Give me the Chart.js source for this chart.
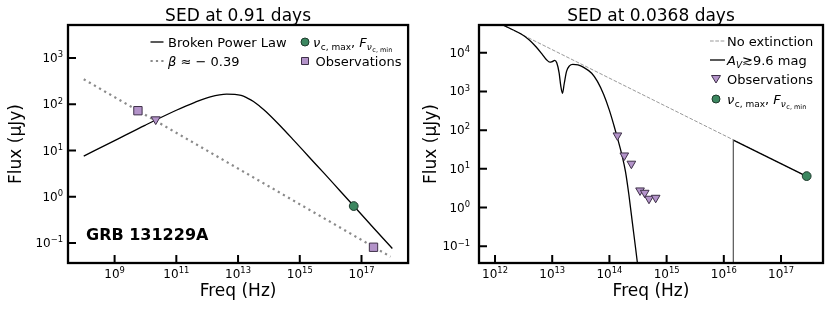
<!DOCTYPE html>
<html>
<head>
<meta charset="utf-8">
<script src="https://cdn.jsdelivr.net/npm/chart.js@4.4.1/dist/chart.umd.min.js"></script>
<style>
  body { margin: 0; background: #fff; }
  .panel { position: absolute; top: 0; width: 415px; height: 312px; }
</style>
</head>
<body>
<div class="panel" style="left:0"><canvas id="left" width="415" height="312"></canvas></div>
<div class="panel" style="left:415px"><canvas id="right" width="415" height="312"></canvas></div>
<script>
// ---- left panel: SED at 0.91 days ----
const bplFreq = [1e8, 1e9, 1e10, 1e11, 3.98e11, 1.26e12, 4.27e12, 1.26e13, 2.0e13, 3.16e13, 5.01e13, 7.94e13, 2.0e14, 6.31e14, 2.0e15, 6.31e15, 2.0e16, 5.62e16, 2.51e17, 1e18];
const bplFlux = [7.59, 16.4, 35.5, 74.1, 110, 145, 166, 155, 136, 115, 91, 70, 38.0, 16.8, 7.24, 3.16, 1.35, 0.631, 0.209, 0.0759];
const betaFreq = [1e8, 8.7e17];
const betaFlux = [347, 0.0506];
const obsSqFreq = [5.7e9, 2.45e17];
const obsSqFlux = [72.6, 0.081];
const obsTriFreqL = [2.15e10];
const obsTriFluxL = [47];
const ncFreqL = [5.6e16];
const ncFluxL = [0.63];
const leftXTicks = [1e9, 1e11, 1e13, 1e15, 1e17];
const leftYTicks = [1e-1, 1, 10, 100, 1000];

// ---- right panel: SED at 0.0368 days ----
const noExtFreq = [1e12, 2.81e17];
const noExtFlux = [65200, 6.4];
const extFreq = [1e12, 2.0e12, 2.82e12, 3.98e12, 5.25e12, 6.61e12, 7.94e12, 9.12e12, 1.0e13, 1.1e13, 1.2e13, 1.32e13, 1.41e13, 1.51e13, 1.62e13, 1.78e13, 2.0e13, 2.29e13, 2.82e13, 3.55e13, 4.9e13, 6.17e13, 7.94e13, 1.0e14, 1.2e14, 1.38e14, 1.66e14, 1.91e14, 2.19e14, 2.51e14, 2.88e14, 3.16e14];
const extFlux = [65200, 39800, 30900, 21400, 14100, 9330, 6610, 5690, 5890, 6310, 5500, 3020, 1410, 891, 1580, 3310, 4570, 5010, 4840, 4170, 2950, 1820, 832, 324, 132, 63.1, 22.4, 8.51, 2.14, 0.427, 0.085, 0.028];
const xrayEdgeFreq = [1.466e16, 1.466e16];
const xrayEdgeFlux = [0.001, 55.5];
const xrayFreq = [1.466e16, 2.81e17];
const xrayFlux = [55.5, 6.4];
const obsTriFreqR = [1.38e14, 1.82e14, 2.42e14, 3.43e14, 4.14e14, 4.92e14, 6.44e14];
const obsTriFluxR = [73, 22.2, 13.6, 2.77, 2.41, 1.69, 1.79];
const ncFreqR = [2.81e17];
const ncFluxR = [6.5];
const rightXTicks = [1e12, 1e13, 1e14, 1e15, 1e16, 1e17];
const rightYTicks = [1e-1, 1, 10, 100, 1000, 1e4];

const PURPLE = '#b393c9', PURPLE_EDGE = '#3e3048';
const GREEN = '#3c8760', GREEN_EDGE = '#1e3a2c';
const FONT = '"DejaVu Sans", sans-serif';

Chart.defaults.font.family = FONT;
Chart.defaults.color = '#000';

const pts = (xs, ys) => xs.map((x, i) => ({x: x, y: ys[i]}));

function expText(v) {
  const e = Math.round(Math.log10(v));
  return e < 0 ? '−' + (-e) : String(e);
}

function lineSet(xs, ys, color, width, dash, smooth) {
  return {
    data: pts(xs, ys), showLine: true, pointRadius: 0, borderColor: color,
    borderWidth: width, borderDash: dash || [], order: 2,
    cubicInterpolationMode: smooth ? 'monotone' : 'default', tension: 0
  };
}
function markerSet(xs, ys, style, r, fill, edge, rot) {
  return {
    data: pts(xs, ys), showLine: false, pointStyle: style, pointRadius: r,
    pointRotation: rot || 0, backgroundColor: fill, borderColor: edge,
    borderWidth: 1, order: 0
  };
}

function axes(xr, yr, xt, yt, yWidth) {
  return {
    x: {
      type: 'logarithmic', min: xr[0], max: xr[1],
      afterBuildTicks: s => { s.ticks = xt.map(v => ({value: v})); },
      afterFit: s => { s.height = 49; },
      grid: {display: false, drawTicks: false}, border: {display: false},
      ticks: {display: false},
      title: {display: true, text: 'Freq (Hz)', font: {size: 17}, padding: {top: 0, bottom: 10}}
    },
    y: {
      type: 'logarithmic', min: yr[0], max: yr[1],
      afterBuildTicks: s => { s.ticks = yt.map(v => ({value: v})); },
      afterFit: s => { s.width = yWidth; },
      grid: {display: false, drawTicks: false}, border: {display: false},
      ticks: {display: false},
      title: {display: true, text: 'Flux (μJy)', font: {size: 17}, padding: {top: 6, bottom: 0}}
    }
  };
}

// "10" with a raised exponent, like matplotlib's mathtext labels
function powerLabel(ctx, v, x, base, align) {
  const e = expText(v);
  ctx.font = '12px ' + FONT;
  const w1 = ctx.measureText('10').width;
  ctx.font = '8.4px ' + FONT;
  const w2 = ctx.measureText(e).width;
  let x0 = align === 'center' ? x - (w1 + w2) / 2 : x - w1 - w2;
  ctx.font = '12px ' + FONT;
  ctx.fillText('10', x0, base);
  ctx.font = '8.4px ' + FONT;
  ctx.fillText(e, x0 + w1, base - 4.7);
}

function drawFrame(chart, title, labelRight) {
  const {ctx, chartArea: a} = chart;
  const sx = chart.scales.x, sy = chart.scales.y;
  ctx.save();
  ctx.strokeStyle = '#000';
  ctx.lineWidth = 2;
  ctx.beginPath();
  sx.ticks.forEach(t => {
    const p = sx.getPixelForValue(t.value);
    ctx.moveTo(p, a.bottom); ctx.lineTo(p, a.bottom - 8);
  });
  sy.ticks.forEach(t => {
    const p = sy.getPixelForValue(t.value);
    ctx.moveTo(a.left, p); ctx.lineTo(a.left + 8, p);
  });
  ctx.stroke();
  ctx.lineWidth = 2.3;
  ctx.strokeRect(a.left, a.top, a.right - a.left, a.bottom - a.top);
  ctx.fillStyle = '#000';
  ctx.textBaseline = 'alphabetic';
  ctx.textAlign = 'left';
  sx.ticks.forEach(t => powerLabel(ctx, t.value, sx.getPixelForValue(t.value), 277.7, 'center'));
  sy.ticks.forEach(t => powerLabel(ctx, t.value, labelRight, sy.getPixelForValue(t.value) + 4, 'right'));
  ctx.font = '17px ' + FONT;
  ctx.textAlign = 'center';
  ctx.fillText(title, (a.left + a.right) / 2, 21);
  ctx.restore();
}

// small legend helpers
function handleLine(ctx, x0, x1, y, color, width, dash) {
  ctx.save();
  ctx.strokeStyle = color; ctx.lineWidth = width; ctx.setLineDash(dash || []);
  ctx.beginPath(); ctx.moveTo(x0, y); ctx.lineTo(x1, y); ctx.stroke();
  ctx.restore();
}
function handleMarker(ctx, kind, x, y, fill, edge) {
  ctx.save();
  ctx.fillStyle = fill; ctx.strokeStyle = edge; ctx.lineWidth = 1;
  ctx.beginPath();
  if (kind === 'circle') ctx.arc(x, y, 4, 0, Math.PI * 2);
  if (kind === 'square') ctx.rect(x - 3.5, y - 3.5, 7, 7);
  if (kind === 'tri') { ctx.moveTo(x - 4.5, y - 3.5); ctx.lineTo(x + 4.5, y - 3.5); ctx.lineTo(x, y + 4); ctx.closePath(); }
  ctx.fill(); ctx.stroke();
  ctx.restore();
}
function run(ctx, x, y, text, font) {
  ctx.font = font;
  ctx.fillText(text, x, y);
  return x + ctx.measureText(text).width;
}
function nuLabel(ctx, x, y) {
  // nu_{c,max}, F_{nu_{c,min}}
  x = run(ctx, x, y, 'ν', 'italic 13px ' + FONT);
  x = run(ctx, x + 0.5, y + 3, 'c, max', '9px ' + FONT);
  x = run(ctx, x, y, ', ', '13px ' + FONT);
  x = run(ctx, x, y, 'F', 'italic 13px ' + FONT);
  x = run(ctx, x, y + 3, 'ν', 'italic 9px ' + FONT);
  run(ctx, x + 0.5, y + 5, 'c, min', '6.5px ' + FONT);
}

const leftDecor = {
  id: 'leftDecor',
  afterDraw(chart) {
    drawFrame(chart, 'SED at 0.91 days', 63);
    const ctx = chart.ctx;
    ctx.save();
    ctx.fillStyle = '#000'; ctx.textAlign = 'left'; ctx.textBaseline = 'alphabetic';
    handleLine(ctx, 150.5, 163.5, 42, '#000', 1.3);
    run(ctx, 168, 46.5, 'Broken Power Law', '13px ' + FONT);
    handleLine(ctx, 150.5, 164, 61, '#8a8a8a', 2.2, [2.2, 3.2]);
    let x = run(ctx, 168, 65.5, 'β', 'italic 13px ' + FONT);
    run(ctx, x, 65.5, ' ≈ − 0.39', '13px ' + FONT);
    handleMarker(ctx, 'circle', 305, 42, GREEN, GREEN_EDGE);
    nuLabel(ctx, 313, 46.5);
    handleLine(ctx, 305, 305, 55, '#cdb8dc', 1);
    handleLine(ctx, 305, 305, 67, '#cdb8dc', 1);
    handleMarker(ctx, 'square', 305, 61, PURPLE, PURPLE_EDGE);
    run(ctx, 315.5, 65.5, 'Observations', '13px ' + FONT);
    run(ctx, 86, 239.5, 'GRB 131229A', 'bold 16px ' + FONT);
    ctx.restore();
  }
};

const rightDecor = {
  id: 'rightDecor',
  afterDraw(chart) {
    drawFrame(chart, 'SED at 0.0368 days', 55);
    const ctx = chart.ctx;
    ctx.save();
    ctx.fillStyle = '#000'; ctx.textAlign = 'left'; ctx.textBaseline = 'alphabetic';
    const lx = 312;
    handleLine(ctx, 295, 310, 41, '#999', 1, [3.7, 1.6]);
    run(ctx, lx, 45.5, 'No extinction', '13px ' + FONT);
    handleLine(ctx, 295, 310, 60, '#000', 1.3);
    let x = run(ctx, lx, 64.5, 'A', 'italic 13px ' + FONT);
    x = run(ctx, x, 67.5, 'V', 'italic 9px ' + FONT);
    run(ctx, x, 64.5, '≳9.6 mag', '13px ' + FONT);
    handleMarker(ctx, 'tri', 301, 79, PURPLE, PURPLE_EDGE);
    run(ctx, lx, 84, 'Observations', '13px ' + FONT);
    handleMarker(ctx, 'circle', 301, 99, GREEN, GREEN_EDGE);
    nuLabel(ctx, lx, 103.5);
    ctx.restore();
  }
};

new Chart(document.getElementById('left'), {
  type: 'scatter',
  data: {
    datasets: [
      markerSet(obsSqFreq, obsSqFlux, 'rect', 5.9, PURPLE, PURPLE_EDGE),
      markerSet(obsTriFreqL, obsTriFluxL, 'triangle', 5.2, PURPLE, PURPLE_EDGE, 180),
      markerSet(ncFreqL, ncFluxL, 'circle', 4.4, GREEN, GREEN_EDGE),
      lineSet(bplFreq, bplFlux, '#000', 1.3, null, true),
      lineSet(betaFreq, betaFlux, '#8a8a8a', 2.2, [2.2, 3.7], false)
    ]
  },
  options: {
    responsive: false, animation: false,
    layout: {padding: {top: 25, right: 4, left: 0, bottom: 0}},
    scales: axes([10 ** 7.49, 10 ** 18.51], [10 ** -1.432, 10 ** 3.7135], leftXTicks, leftYTicks, 68),
    plugins: {legend: {display: false}, tooltip: {enabled: false}}
  },
  plugins: [leftDecor]
});

new Chart(document.getElementById('right'), {
  type: 'scatter',
  data: {
    datasets: [
      markerSet(obsTriFreqR, obsTriFluxR, 'triangle', 5, PURPLE, PURPLE_EDGE, 180),
      markerSet(ncFreqR, ncFluxR, 'circle', 4.4, GREEN, GREEN_EDGE),
      lineSet(extFreq, extFlux, '#000', 1.3, null, true),
      lineSet(xrayEdgeFreq, xrayEdgeFlux, '#555', 1.2, null, false),
      lineSet(xrayFreq, xrayFlux, '#000', 1.3, null, false),
      lineSet(noExtFreq, noExtFlux, '#999', 1, [3.7, 1.6], false)
    ]
  },
  options: {
    responsive: false, animation: false,
    layout: {padding: {top: 25, right: 7, left: 0, bottom: 0}},
    scales: axes([10 ** 11.72, 10 ** 17.734], [10 ** -1.4315, 10 ** 4.716], rightXTicks, rightYTicks, 64),
    plugins: {legend: {display: false}, tooltip: {enabled: false}}
  },
  plugins: [rightDecor]
});
</script>
</body>
</html>
